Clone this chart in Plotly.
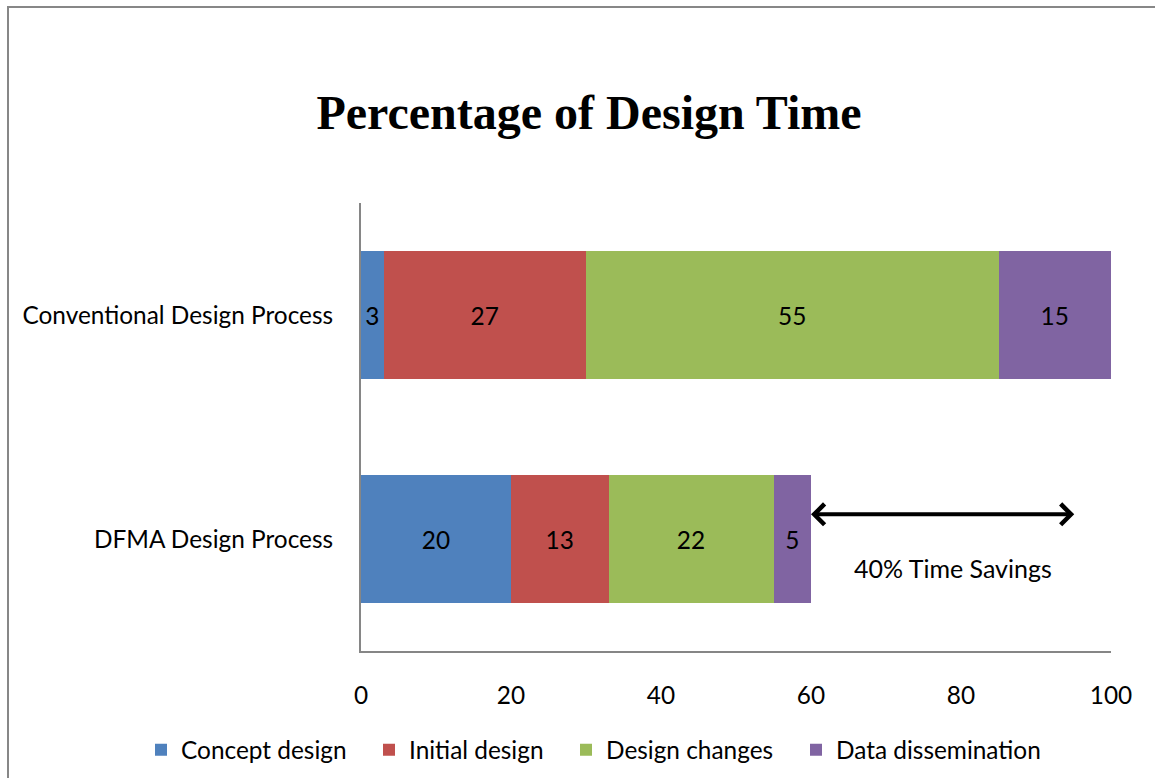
import plotly.graph_objects as go

categories = ["DFMA Design Process", "Conventional Design Process"]
series_names = ["Concept design", "Initial design", "Design changes", "Data dissemination"]
concept = [20, 3]
initial = [13, 27]
changes = [22, 55]
dissemination = [5, 15]
series_values = [concept, initial, changes, dissemination]
colors = ["#4F81BD", "#C0504D", "#9BBB59", "#8064A2"]
x_ticks = [0, 20, 40, 60, 80, 100]
savings_label = "40% Time Savings"
savings_from, savings_to = 60, 95.3

FONT = "Lato"
FS = 24.4
W, H = 1155, 778
L, R, T, B = 361, 44, 203, 127
pw, ph = W - L - R, H - T - B

def px_x(p):
    return (p - L) / pw

def px_y(p):
    return (H - B - p) / ph

fig = go.Figure()
legend_px = [160, 388, 585, 815]
for i, (name, vals, col) in enumerate(zip(series_names, series_values, colors)):
    lg = "legend" if i == 0 else f"legend{i+1}"
    fig.add_trace(go.Bar(
        y=categories, x=vals, name=name, orientation="h",
        marker=dict(color=col, line=dict(width=0)),
        text=[str(v) for v in vals], textposition="inside",
        insidetextanchor="middle", textangle=0,
        textfont=dict(family=FONT, size=FS, color="black"),
        width=0.572, legend=lg, hoverinfo="skip",
    ))

legend_common = dict(orientation="h", yanchor="middle", xanchor="left",
                     font=dict(family=FONT, size=FS, color="black"),
                     bgcolor="rgba(0,0,0,0)", borderwidth=0,
                     itemwidth=30, tracegroupgap=0)
layout_legends = {}
for i, lx in enumerate(legend_px):
    key = "legend" if i == 0 else f"legend{i+1}"
    layout_legends[key] = dict(legend_common, x=px_x(lx - 19), y=px_y(750))

fig.update_layout(
    width=W, height=H,
    margin=dict(l=L, r=R, t=T, b=B, pad=0, autoexpand=False),
    paper_bgcolor="white", plot_bgcolor="white",
    barmode="stack", bargap=0.43,
    title=dict(text="<b>Percentage of Design Time</b>",
               font=dict(family="Liberation Serif", size=48, color="black"),
               x=589 / W, xanchor="center", xref="container",
               y=1 - 112 / H, yanchor="middle", yref="container"),
    xaxis=dict(range=[0, 100], tickvals=x_ticks, ticktext=[str(v) for v in x_ticks],
               showgrid=False, zeroline=False, showline=True, linecolor="#868686",
               linewidth=2, ticks="", ticklabelstandoff=22,
               tickfont=dict(family=FONT, size=FS, color="black"), fixedrange=True),
    yaxis=dict(range=[-0.5, 1.5], categoryorder="array", categoryarray=categories,
               showgrid=False, zeroline=False, showline=True, linecolor="#868686",
               linewidth=2, ticks="", ticklabelstandoff=21,
               tickfont=dict(family=FONT, size=FS, color="black"), fixedrange=True),
    showlegend=True,
    **layout_legends,
)

# chart border (extends beyond right/bottom edges like the reference)
fig.add_shape(type="rect", xref="paper", yref="paper",
              x0=px_x(8), x1=px_x(W + 20), y0=px_y(H + 20), y1=px_y(7),
              line=dict(color="#878787", width=2), fillcolor="rgba(0,0,0,0)", layer="below")

fig.add_annotation(x=savings_from, y=0.11, ax=savings_to, ay=0.11,
                   xref="x", yref="y", axref="x", ayref="y",
                   showarrow=True, arrowside="end+start", arrowhead=4, startarrowhead=4,
                   arrowsize=1, startarrowsize=1, arrowwidth=4, arrowcolor="black",
                   standoff=0, startstandoff=0, text="")
fig.add_annotation(x=78.9, y=-0.13, xref="x", yref="y", text=savings_label,
                   showarrow=False, font=dict(family=FONT, size=25, color="black"))

fig.write_html("out.html")
